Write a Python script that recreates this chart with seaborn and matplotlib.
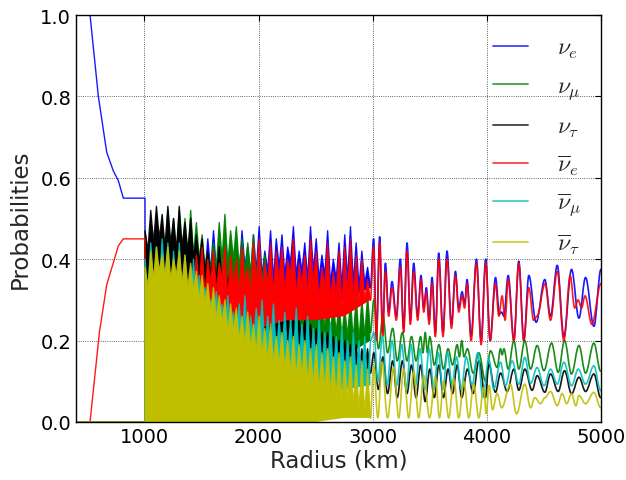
import numpy as np
import pandas as pd
import matplotlib
matplotlib.use("Agg")
import matplotlib.pyplot as plt
from matplotlib.path import Path
from matplotlib.patches import PathPatch
import seaborn as sns

# ---------------- data ----------------
labels = [r'$\nu_e$', r'$\nu_\mu$', r'$\nu_\tau$',
          r'$\overline{\nu}_e$', r'$\overline{\nu}_\mu$', r'$\overline{\nu}_\tau$']
colors = [(0, 0, 1), (0, 0.5, 0), (0, 0, 0), (1, 0, 0), (0, 0.75, 0.75), (0.75, 0.75, 0)]

# region before 1000 km
pre_r_nue = [400, 523, 596, 669, 727, 771, 815, 1005]
pre_p_nue = [1.0, 1.0, 0.80, 0.663, 0.617, 0.593, 0.55, 0.55]
pre_r_anue = [400, 523, 605, 669, 742, 771, 815, 1005]
pre_p_anue = [0.0, 0.0, 0.22, 0.337, 0.405, 0.433, 0.45, 0.45]
pre_r_other = [400, 1005]
pre_p_other = [0.0, 0.0]

# dense oscillation region: radius of each extremum (1005 ... 2980 km, every 25 km)
dense_r = list(range(1005, 3000, 25))
# upper extrema (alternating peaks / notches)
nue_top = [0.47, 0.40, 0.45, 0.39, 0.46, 0.40, 0.44, 0.38,
           0.45, 0.39, 0.47, 0.40, 0.43, 0.38, 0.46, 0.39,
           0.44, 0.37, 0.46, 0.38, 0.43, 0.36, 0.45, 0.37,
           0.47, 0.37, 0.43, 0.38, 0.46, 0.36, 0.44, 0.37,
           0.45, 0.36, 0.47, 0.38, 0.43, 0.36, 0.46, 0.37,
           0.48, 0.36, 0.42, 0.37, 0.47, 0.35, 0.45, 0.38,
           0.46, 0.36, 0.43, 0.39, 0.48, 0.36, 0.42, 0.37,
           0.44, 0.35, 0.48, 0.37, 0.45, 0.35, 0.41, 0.36,
           0.47, 0.34, 0.40, 0.35, 0.44, 0.33, 0.46, 0.35,
           0.48, 0.34, 0.44, 0.33, 0.42, 0.34, 0.38, 0.33]
numu_top = [0.44, 0.36, 0.46, 0.38, 0.47, 0.37, 0.45, 0.40,
            0.52, 0.40, 0.50, 0.41, 0.52, 0.42, 0.50, 0.40,
            0.52, 0.41, 0.49, 0.40, 0.46, 0.38, 0.42, 0.37,
            0.44, 0.38, 0.49, 0.40, 0.51, 0.39, 0.47, 0.40,
            0.48, 0.38, 0.45, 0.37, 0.44, 0.36, 0.46, 0.35,
            0.44, 0.34, 0.41, 0.33, 0.40, 0.31, 0.38, 0.30,
            0.37, 0.29, 0.36, 0.28, 0.35, 0.27, 0.34, 0.26,
            0.33, 0.25, 0.32, 0.25, 0.31, 0.24, 0.30, 0.23,
            0.30, 0.22, 0.29, 0.22, 0.29, 0.21, 0.28, 0.21,
            0.30, 0.20, 0.31, 0.20, 0.30, 0.21, 0.31, 0.22]
nutau_top = [0.47, 0.42, 0.52, 0.44, 0.53, 0.45, 0.51, 0.43,
             0.53, 0.44, 0.50, 0.42, 0.53, 0.43, 0.49, 0.42,
             0.50, 0.40, 0.46, 0.39, 0.45, 0.37, 0.42, 0.36,
             0.41, 0.35, 0.43, 0.34, 0.40, 0.33, 0.38, 0.32,
             0.37, 0.30, 0.36, 0.29, 0.34, 0.28, 0.33, 0.27,
             0.32, 0.26, 0.31, 0.25, 0.30, 0.24, 0.29, 0.23,
             0.28, 0.22, 0.27, 0.21, 0.26, 0.20, 0.25, 0.20,
             0.25, 0.19, 0.24, 0.18, 0.23, 0.18, 0.22, 0.17,
             0.22, 0.16, 0.21, 0.16, 0.20, 0.15, 0.20, 0.15,
             0.19, 0.14, 0.19, 0.13, 0.18, 0.13, 0.18, 0.12]
anue_top = [0.20, 0.30, 0.26, 0.32, 0.25, 0.31, 0.27, 0.33,
            0.26, 0.32, 0.27, 0.31, 0.28, 0.33, 0.29, 0.34,
            0.34, 0.30, 0.41, 0.33, 0.43, 0.31, 0.40, 0.34,
            0.42, 0.32, 0.39, 0.35, 0.43, 0.30, 0.41, 0.33,
            0.40, 0.31, 0.43, 0.34, 0.38, 0.31, 0.44, 0.33,
            0.45, 0.32, 0.39, 0.34, 0.44, 0.31, 0.42, 0.35,
            0.43, 0.32, 0.40, 0.36, 0.45, 0.31, 0.39, 0.34,
            0.41, 0.31, 0.45, 0.34, 0.42, 0.30, 0.38, 0.33,
            0.44, 0.30, 0.37, 0.31, 0.42, 0.28, 0.43, 0.31,
            0.45, 0.30, 0.41, 0.29, 0.40, 0.30, 0.35, 0.30]
anumu_top = [0.40, 0.30, 0.44, 0.33, 0.43, 0.32, 0.45, 0.34,
             0.44, 0.31, 0.42, 0.30, 0.44, 0.29, 0.41, 0.30,
             0.28, 0.40, 0.27, 0.36, 0.26, 0.33, 0.25, 0.30,
             0.24, 0.32, 0.23, 0.29, 0.22, 0.31, 0.22, 0.27,
             0.21, 0.29, 0.20, 0.31, 0.19, 0.26, 0.19, 0.28,
             0.19, 0.30, 0.18, 0.26, 0.18, 0.29, 0.17, 0.25,
             0.17, 0.27, 0.16, 0.25, 0.16, 0.28, 0.15, 0.24,
             0.15, 0.26, 0.14, 0.23, 0.14, 0.25, 0.13, 0.22,
             0.13, 0.24, 0.12, 0.21, 0.12, 0.23, 0.11, 0.20,
             0.11, 0.22, 0.10, 0.20, 0.10, 0.21, 0.09, 0.20]
anutau_top = [0.38, 0.33, 0.42, 0.35, 0.43, 0.37, 0.41, 0.36,
              0.43, 0.35, 0.40, 0.36, 0.42, 0.34, 0.41, 0.33,
              0.39, 0.32, 0.37, 0.30, 0.36, 0.29, 0.34, 0.27,
              0.33, 0.25, 0.31, 0.24, 0.30, 0.22, 0.29, 0.22,
              0.28, 0.20, 0.26, 0.19, 0.27, 0.18, 0.24, 0.17,
              0.26, 0.16, 0.23, 0.15, 0.24, 0.14, 0.21, 0.14,
              0.22, 0.13, 0.20, 0.12, 0.21, 0.11, 0.19, 0.11,
              0.20, 0.10, 0.18, 0.09, 0.19, 0.08, 0.17, 0.08,
              0.18, 0.07, 0.16, 0.06, 0.17, 0.05, 0.15, 0.05,
              0.16, 0.04, 0.14, 0.03, 0.15, 0.02, 0.13, 0.01]
# lower extrema of the dense band
bot_r = [1005, 1250, 1500, 1750, 2000, 2250, 2500, 2750, 2980]
nue_bot = [0.40, 0.36, 0.33, 0.32, 0.32, 0.30, 0.30, 0.30, 0.33]
numu_bot = [0.25, 0.25, 0.22, 0.20, 0.18, 0.16, 0.15, 0.16, 0.20]
nutau_bot = [0.10, 0.10, 0.08, 0.08, 0.07, 0.06, 0.06, 0.08, 0.12]
anue_bot = [0.20, 0.15, 0.20, 0.21, 0.23, 0.25, 0.25, 0.26, 0.30]
anumu_bot = [0.03, 0.03, 0.03, 0.04, 0.05, 0.06, 0.07, 0.08, 0.09]
anutau_bot = [0.0, 0.0, 0.0, 0.0, 0.0, 0.0, 0.0, 0.01, 0.01]

# resolved oscillations beyond 3000 km (extrema)
nue_tail_r = [3008, 3032, 3061, 3087, 3111, 3140, 3169, 3207, 3242, 3271, 3301, 3330, 3359, 3394,
              3423, 3447, 3470, 3494, 3520, 3549, 3578, 3616, 3651, 3690, 3725, 3754, 3783, 3805,
              3827, 3862, 3909, 3950, 3990, 4029, 4076, 4111, 4130, 4149, 4187, 4237, 4280, 4324,
              4368, 4432, 4508, 4558, 4617, 4675, 4742, 4807, 4865, 4938, 5000]
nue_tail_p = [0.45, 0.21, 0.455, 0.22, 0.39, 0.27, 0.345, 0.26, 0.40, 0.23, 0.44, 0.25, 0.39, 0.26,
              0.36, 0.28, 0.33, 0.25, 0.355, 0.22, 0.415, 0.22, 0.42, 0.24, 0.37, 0.28, 0.32, 0.29,
              0.35, 0.21, 0.40, 0.20, 0.40, 0.20, 0.355, 0.265, 0.27, 0.26, 0.36, 0.20, 0.395, 0.20,
              0.36, 0.245, 0.35, 0.26, 0.385, 0.21, 0.375, 0.255, 0.355, 0.235, 0.375]
anue_tail_r = [3008, 3032, 3061, 3087, 3111, 3140, 3169, 3207, 3242, 3271, 3301, 3330, 3359, 3394,
               3423, 3447, 3470, 3494, 3520, 3549, 3578, 3616, 3651, 3690, 3725, 3754, 3783, 3805,
               3827, 3862, 3909, 3950, 3990, 4029, 4076, 4105, 4134, 4160, 4187, 4237, 4280, 4324,
               4368, 4410, 4440, 4510, 4558, 4617, 4675, 4730, 4770, 4800, 4830, 4860, 4920, 5000]
anue_tail_p = [0.43, 0.20, 0.44, 0.21, 0.37, 0.26, 0.33, 0.25, 0.38, 0.22, 0.42, 0.24, 0.37, 0.25,
               0.35, 0.27, 0.32, 0.24, 0.34, 0.21, 0.40, 0.21, 0.40, 0.23, 0.36, 0.27, 0.31, 0.28,
               0.34, 0.20, 0.39, 0.19, 0.39, 0.20, 0.34, 0.26, 0.31, 0.25, 0.35, 0.20, 0.39, 0.20,
               0.33, 0.25, 0.26, 0.34, 0.25, 0.37, 0.20, 0.36, 0.28, 0.30, 0.28, 0.31, 0.24, 0.34]
numu_tail_r = [3010, 3050, 3090, 3130, 3175, 3215, 3260, 3300, 3340, 3380, 3420, 3440, 3460, 3480,
               3500, 3540, 3580, 3620, 3660, 3700, 3740, 3760, 3780, 3800, 3830, 3880, 3930, 3988,
               4032, 4090, 4120, 4134, 4150, 4187, 4237, 4280, 4333, 4383, 4441, 4500, 4567, 4625,
               4681, 4742, 4807, 4865, 4938, 4997]
numu_tail_p = [0.30, 0.18, 0.26, 0.17, 0.23, 0.15, 0.22, 0.15, 0.21, 0.15, 0.21, 0.17, 0.22, 0.17,
               0.21, 0.14, 0.19, 0.13, 0.18, 0.14, 0.19, 0.16, 0.20, 0.16, 0.18, 0.12, 0.17, 0.10,
               0.175, 0.134, 0.18, 0.165, 0.18, 0.13, 0.20, 0.13, 0.20, 0.13, 0.188, 0.126, 0.194, 0.122,
               0.20, 0.118, 0.188, 0.12, 0.194, 0.125]
nutau_tail_r = [3010, 3050, 3090, 3130, 3175, 3215, 3260, 3300, 3340, 3380, 3420, 3460, 3500, 3540,
                3580, 3620, 3660, 3700, 3740, 3780, 3830, 3880, 3930, 3988, 4017, 4076, 4120, 4178,
                4237, 4280, 4333, 4397, 4441, 4508, 4558, 4625, 4681, 4742, 4807, 4865, 4938, 4997]
nutau_tail_p = [0.17, 0.08, 0.16, 0.07, 0.15, 0.06, 0.15, 0.07, 0.14, 0.06, 0.14, 0.05, 0.13, 0.06,
                0.14, 0.06, 0.13, 0.07, 0.14, 0.06, 0.13, 0.07, 0.15, 0.06, 0.142, 0.073, 0.12, 0.075,
                0.13, 0.078, 0.13, 0.078, 0.114, 0.073, 0.118, 0.075, 0.126, 0.069, 0.11, 0.075, 0.118, 0.06]
anumu_tail_r = [3010, 3045, 3085, 3125, 3170, 3210, 3255, 3295, 3335, 3375, 3415, 3455, 3495, 3535,
                3575, 3615, 3655, 3695, 3735, 3775, 3820, 3870, 3920, 3965, 4017, 4061, 4120, 4163,
                4222, 4280, 4333, 4383, 4441, 4500, 4558, 4617, 4675, 4742, 4801, 4865, 4938, 4997]
anumu_tail_p = [0.22, 0.10, 0.21, 0.09, 0.20, 0.09, 0.19, 0.08, 0.19, 0.09, 0.18, 0.08, 0.18, 0.08,
                0.17, 0.08, 0.17, 0.09, 0.16, 0.08, 0.16, 0.09, 0.17, 0.06, 0.155, 0.081, 0.147, 0.089,
                0.15, 0.093, 0.159, 0.095, 0.134, 0.089, 0.13, 0.093, 0.147, 0.089, 0.13, 0.093, 0.138, 0.077]
anutau_tail_r = [3008, 3045, 3081, 3130, 3184, 3228, 3271, 3315, 3359, 3403, 3447, 3498, 3549, 3585,
                 3622, 3666, 3710, 3754, 3798, 3842, 3885, 3930, 3973, 3995, 4020, 4050, 4090, 4130,
                 4207, 4260, 4333, 4383, 4420, 4470, 4510, 4558, 4617, 4660, 4700, 4742, 4780, 4807,
                 4865, 4938, 4997]
anutau_tail_p = [0.14, 0.01, 0.147, 0.01, 0.135, 0.01, 0.13, 0.01, 0.125, 0.01, 0.114, 0.01, 0.11, 0.01,
                 0.10, 0.01, 0.106, 0.01, 0.10, 0.01, 0.093, 0.01, 0.085, 0.02, 0.09, 0.03, 0.07, 0.035,
                 0.093, 0.02, 0.093, 0.035, 0.06, 0.045, 0.06, 0.075, 0.04, 0.07, 0.045, 0.07, 0.04, 0.065,
                 0.045, 0.073, 0.035]

x_ticks = [1000, 2000, 3000, 4000, 5000]
y_ticks = [0.0, 0.2, 0.4, 0.6, 0.8, 1.0]

# ---------------- style ----------------
sns.set_style("white")
plt.rcParams.update({
    "font.family": ["DejaVu Sans"],
    "mathtext.fontset": "cm",
    "axes.edgecolor": "black",
    "axes.linewidth": 1.0,
    "xtick.direction": "in",
    "ytick.direction": "in",
    "xtick.top": True,
    "ytick.right": True,
    "xtick.major.size": 4,
    "ytick.major.size": 4,
    "xtick.color": "black",
    "ytick.color": "black",
})

fig = plt.figure(figsize=(6.26, 4.81), dpi=100)
ax = fig.add_axes([0.1214, 0.1206, 0.8386, 0.8461])


def smooth_path(xs, ys):
    """Cubic Bezier path through the given extrema (flat tangents at each extremum)."""
    verts = [(xs[0], ys[0])]
    codes = [Path.MOVETO]
    for x0, y0, x1, y1 in zip(xs[:-1], ys[:-1], xs[1:], ys[1:]):
        d = x1 - x0
        verts += [(x0 + 0.36 * d, y0), (x1 - 0.36 * d, y1), (x1, y1)]
        codes += [Path.CURVE4] * 3
    return Path(verts, codes)


series = [
    (pre_r_nue, pre_p_nue, nue_top, nue_bot, nue_tail_r, nue_tail_p),
    (pre_r_other, pre_p_other, numu_top, numu_bot, numu_tail_r, numu_tail_p),
    (pre_r_other, pre_p_other, nutau_top, nutau_bot, nutau_tail_r, nutau_tail_p),
    (pre_r_anue, pre_p_anue, anue_top, anue_bot, anue_tail_r, anue_tail_p),
    (pre_r_other, pre_p_other, anumu_top, anumu_bot, anumu_tail_r, anumu_tail_p),
    (pre_r_other, pre_p_other, anutau_top, anutau_bot, anutau_tail_r, anutau_tail_p),
]

for i, (pr, pp, top, bot, tr, tp) in enumerate(series):
    df = pd.DataFrame({"r": list(pr) + dense_r, "p": list(pp) + list(top)})
    sns.lineplot(data=df, x="r", y="p", sort=False, estimator=None, color=colors[i],
                 lw=1.0, alpha=0.9, label=labels[i], ax=ax, zorder=3 + i)
    poly_r = dense_r + bot_r[::-1]
    poly_p = list(top) + list(bot)[::-1]
    ax.fill(poly_r, poly_p, color=colors[i], lw=0, alpha=1.0, zorder=2.5 + i)
    tail = smooth_path([dense_r[-1]] + list(tr), [top[-1]] + list(tp))
    ax.add_patch(PathPatch(tail, fill=False, edgecolor=colors[i], lw=1.2,
                           alpha=0.9, zorder=3 + i, capstyle="round", joinstyle="round"))

ax.set_xlim(400, 5000)
ax.set_ylim(0, 1)
ax.set_xticks(x_ticks)
ax.set_yticks(y_ticks)
ax.set_xticklabels([str(v) for v in x_ticks], fontsize=14)
ax.set_yticklabels([f"{v:.1f}" for v in y_ticks], fontsize=14)
ax.grid(True, linestyle=":", color="black", linewidth=0.6, alpha=0.8)
for gl in ax.get_xgridlines() + ax.get_ygridlines():
    gl.set_zorder(20)
ax.set_xlabel("Radius (km)", fontsize=16.5, labelpad=2)
ax.set_ylabel("Probabilities", fontsize=16.5, labelpad=6)
for s in ax.spines.values():
    s.set_zorder(30)

leg = ax.legend(loc="upper right", frameon=False, fontsize=17, handlelength=1.5,
                labelspacing=0.55, handletextpad=1.2, borderaxespad=0.45)
for h in leg.get_lines():
    h.set_linewidth(1.3)
    h.set_alpha(0.75)
leg.set_zorder(40)

fig.savefig("out.png", dpi=100)
